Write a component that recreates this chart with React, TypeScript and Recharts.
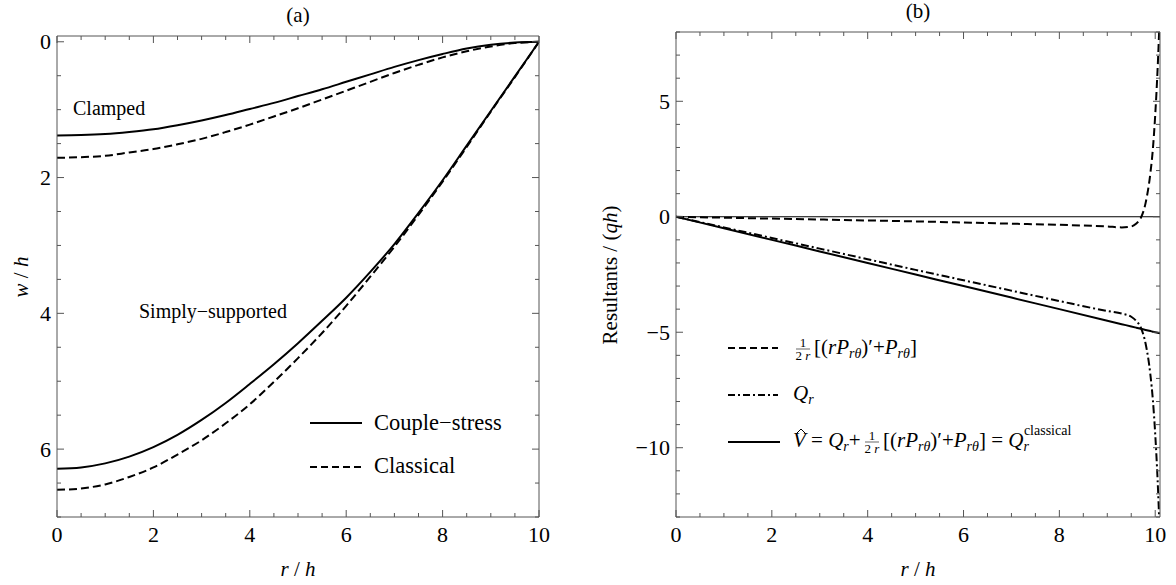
import { LineChart, Line, XAxis, YAxis, ReferenceLine } from 'recharts';

// ---- panel (a): deflection w/h against r/h ----
const rA = [0, 0.5, 1, 1.5, 2, 2.5, 3, 3.5, 4, 4.5, 5, 5.5, 6, 6.5, 7, 7.5, 8, 8.5, 9, 9.5, 10];
const clampedCouple = [1.38, 1.375, 1.36, 1.33, 1.29, 1.23, 1.16, 1.08, 0.99, 0.9, 0.8, 0.7, 0.59, 0.48, 0.37, 0.27, 0.18, 0.1, 0.045, 0.012, 0];
const clampedClassical = [1.71, 1.7, 1.68, 1.63, 1.58, 1.51, 1.43, 1.33, 1.22, 1.1, 0.98, 0.85, 0.72, 0.59, 0.46, 0.34, 0.23, 0.14, 0.07, 0.02, 0];
const simplyCouple = [6.29, 6.27, 6.21, 6.11, 5.97, 5.79, 5.57, 5.32, 5.04, 4.75, 4.44, 4.11, 3.77, 3.39, 2.98, 2.52, 2.04, 1.53, 1.02, 0.51, 0];
const simplyClassical = [6.6, 6.58, 6.52, 6.41, 6.27, 6.08, 5.87, 5.62, 5.34, 5.01, 4.66, 4.29, 3.89, 3.46, 3.02, 2.55, 2.06, 1.55, 1.03, 0.52, 0];

// ---- panel (b): resultants / (qh) against r/h ----
const rB = [0, 1, 2, 3, 4, 5, 6, 7, 8, 9, 9.3, 9.5, 9.6, 9.7, 9.8, 9.9, 9.95, 10, 10.05, 10.1];
const pTerm = [0, -0.04, -0.08, -0.12, -0.16, -0.2, -0.25, -0.3, -0.35, -0.42, -0.46, -0.42, -0.3, -0.05, 0.6, 1.9, 2.9, 4.4, 6.4, 9.0];
const qR = [0, -0.46, -0.92, -1.38, -1.84, -2.3, -2.75, -3.2, -3.65, -4.08, -4.19, -4.33, -4.5, -4.8, -5.5, -6.85, -7.9, -9.4, -11.4, -14.0];
const vHat = [0, -0.5, -1, -1.5, -2, -2.5, -3, -3.5, -4, -4.5, -4.65, -4.75, -4.8, -4.85, -4.9, -4.95, -4.975, -5, -5.025, -5.05];

// ticks
const xTicks = [0, 0.5, 1, 1.5, 2, 2.5, 3, 3.5, 4, 4.5, 5, 5.5, 6, 6.5, 7, 7.5, 8, 8.5, 9, 9.5, 10];
const xMajor = [0, 2, 4, 6, 8, 10];
const yTicksA = [0, 0.5, 1, 1.5, 2, 2.5, 3, 3.5, 4, 4.5, 5, 5.5, 6, 6.5, 7];
const yMajorA = [0, 2, 4, 6];
const yTicksB = [-13, -12, -11, -10, -9, -8, -7, -6, -5, -4, -3, -2, -1, 0, 1, 2, 3, 4, 5, 6, 7, 8];
const yMajorB = [-10, -5, 0, 5];

const dataA = rA.map((r, i) => ({
  r,
  cc: clampedCouple[i],
  ccl: clampedClassical[i],
  sc: simplyCouple[i],
  scl: simplyClassical[i],
}));
const dataB = rB.map((r, i) => ({ r, p: pTerm[i], q: qR[i], v: vHat[i] }));

const FONT = '"Liberation Serif", "Times New Roman", serif';
const FRAME = '#555';
const TICK_FS = 22;

// axis band sizes (bottom, top, left, right)
const AX = { b: 30, t: 10, l: 40, r: 10 };

const fmt = (v: number) => (v < 0 ? '\u2212' + Math.abs(v) : String(v));

// frame ticks point inwards, like the original
const xTick = (side: 'bottom' | 'top', edge: number, majors: number[]) => (props: any) => {
  const { x, payload } = props;
  const major = majors.includes(payload.value);
  const len = major ? 7 : 4;
  const dir = side === 'bottom' ? -1 : 1;
  return (
    <g>
      <line x1={x} x2={x} y1={edge} y2={edge + dir * len} stroke={FRAME} strokeWidth={1} />
      {side === 'bottom' && major && (
        <text x={x} y={edge + 25} textAnchor="middle" fontFamily={FONT} fontSize={TICK_FS} fill="#000">
          {fmt(payload.value)}
        </text>
      )}
    </g>
  );
};

const yTick = (side: 'left' | 'right', edge: number, majors: number[]) => (props: any) => {
  const { y, payload } = props;
  const major = majors.includes(payload.value);
  const len = major ? 7 : 4;
  const dir = side === 'left' ? 1 : -1;
  return (
    <g>
      <line x1={edge} x2={edge + dir * len} y1={y} y2={y} stroke={FRAME} strokeWidth={1} />
      {side === 'left' && major && (
        <text x={edge - 6} y={y + 7.5} textAnchor="end" fontFamily={FONT} fontSize={TICK_FS} fill="#000">
          {fmt(payload.value)}
        </text>
      )}
    </g>
  );
};

const PanelA = () => {
  // plot area: x 57..539, y 36..517
  const W = 560, H = 585;
  const plot = { top: 36, right: 21, bottom: 68, left: 57 };
  const m = { top: plot.top - AX.t, right: plot.right - AX.r, bottom: plot.bottom - AX.b, left: plot.left - AX.l };
  return (
    <LineChart width={W} height={H} data={dataA} margin={m}>
      <XAxis dataKey="r" type="number" domain={[0, 10]} ticks={xTicks} interval={0} height={AX.b}
        allowDataOverflow tickLine={false} axisLine={{ stroke: FRAME }} tick={xTick('bottom', H - plot.bottom, xMajor)} />
      <XAxis xAxisId="top" orientation="top" dataKey="r" type="number" domain={[0, 10]} ticks={xTicks} interval={0} height={AX.t}
        allowDataOverflow tickLine={false} axisLine={{ stroke: FRAME }} tick={xTick('top', plot.top, xMajor)} />
      <YAxis type="number" domain={[-0.085, 7]} reversed ticks={yTicksA} interval={0} width={AX.l}
        allowDataOverflow tickLine={false} axisLine={{ stroke: FRAME }} tick={yTick('left', plot.left, yMajorA)} />
      <YAxis yAxisId="right" orientation="right" type="number" domain={[-0.085, 7]} reversed ticks={yTicksA} interval={0} width={AX.r}
        allowDataOverflow tickLine={false} axisLine={{ stroke: FRAME }} tick={yTick('right', W - plot.right, yMajorA)} />
      <Line dataKey="cc" type="monotone" stroke="#000" strokeWidth={2} dot={false} activeDot={false} isAnimationActive={false} />
      <Line dataKey="ccl" type="monotone" stroke="#000" strokeWidth={2} strokeDasharray="8 4" dot={false} activeDot={false} isAnimationActive={false} />
      <Line dataKey="sc" type="monotone" stroke="#000" strokeWidth={2} dot={false} activeDot={false} isAnimationActive={false} />
      <Line dataKey="scl" type="monotone" stroke="#000" strokeWidth={2} strokeDasharray="8 4" dot={false} activeDot={false} isAnimationActive={false} />
    </LineChart>
  );
};

const PanelB = () => {
  // plot area (page coords): x 676..1160, y 32..517
  const W = 596, H = 585;
  const plot = { top: 32, right: 16, bottom: 68, left: 96 };
  const m = { top: plot.top - AX.t, right: plot.right - AX.r, bottom: plot.bottom - AX.b, left: plot.left - AX.l };
  return (
    <LineChart width={W} height={H} data={dataB} margin={m}>
      <XAxis dataKey="r" type="number" domain={[0, 10.1]} ticks={xTicks} interval={0} height={AX.b}
        allowDataOverflow tickLine={false} axisLine={{ stroke: FRAME }} tick={xTick('bottom', H - plot.bottom, xMajor)} />
      <XAxis xAxisId="top" orientation="top" dataKey="r" type="number" domain={[0, 10.1]} ticks={xTicks} interval={0} height={AX.t}
        allowDataOverflow tickLine={false} axisLine={{ stroke: FRAME }} tick={xTick('top', plot.top, xMajor)} />
      <YAxis type="number" domain={[-13, 8]} ticks={yTicksB} interval={0} width={AX.l}
        allowDataOverflow tickLine={false} axisLine={{ stroke: FRAME }} tick={yTick('left', plot.left, yMajorB)} />
      <YAxis yAxisId="right" orientation="right" type="number" domain={[-13, 8]} ticks={yTicksB} interval={0} width={AX.r}
        allowDataOverflow tickLine={false} axisLine={{ stroke: FRAME }} tick={yTick('right', W - plot.right, yMajorB)} />
      <ReferenceLine y={0} stroke="#000" strokeWidth={1} />
      <Line dataKey="v" type="monotone" stroke="#000" strokeWidth={2} dot={false} activeDot={false} isAnimationActive={false} />
      <Line dataKey="q" type="monotone" stroke="#000" strokeWidth={2} strokeDasharray="8 3 2 3" dot={false} activeDot={false} isAnimationActive={false} />
      <Line dataKey="p" type="monotone" stroke="#000" strokeWidth={2} strokeDasharray="8 4" dot={false} activeDot={false} isAnimationActive={false} />
    </LineChart>
  );
};

const Frac = ({ cx, base }: { cx: number; base: number }) => (
  <g fontFamily={FONT} fill="#000">
    <text x={cx} y={base - 7} fontSize={13} textAnchor="middle">1</text>
    <line x1={cx - 7} x2={cx + 7} y1={base - 5} y2={base - 5} stroke="#000" strokeWidth={0.6} />
    <text x={cx} y={base + 6} fontSize={13} textAnchor="middle">2 <tspan fontStyle="italic">r</tspan></text>
  </g>
);

// [(rP_rθ)′+P_rθ]
const Bracket = () => (
  <>
    [(<tspan fontStyle="italic">rP</tspan>
    <tspan fontStyle="italic" fontSize={14} dy={4}>rθ</tspan>
    <tspan dy={-4}>)′+</tspan>
    <tspan fontStyle="italic">P</tspan>
    <tspan fontStyle="italic" fontSize={14} dy={4}>rθ</tspan>
    <tspan dy={-4}>]</tspan>
  </>
);

const Overlay = () => (
  <svg width={1176} height={585} style={{ position: 'absolute', left: 0, top: 0 }} fontFamily={FONT} fill="#000">
    {/* panel (a) */}
    <text x={298} y={22} fontSize={21} textAnchor="middle">(a)</text>
    <text x={298} y={576} fontSize={21} textAnchor="middle">
      <tspan fontStyle="italic">r</tspan> / <tspan fontStyle="italic">h</tspan>
    </text>
    <text transform="translate(28,277) rotate(-90)" fontSize={21} textAnchor="middle">
      <tspan fontStyle="italic">w</tspan> / <tspan fontStyle="italic">h</tspan>
    </text>
    <text x={73} y={115} fontSize={20}>Clamped</text>
    <text x={139} y={318} fontSize={20}>Simply{'\u2212'}supported</text>
    <line x1={310} x2={362} y1={423} y2={423} stroke="#000" strokeWidth={2} />
    <text x={374} y={430} fontSize={22.5}>Couple{'\u2212'}stress</text>
    <line x1={310} x2={362} y1={467} y2={467} stroke="#000" strokeWidth={2} strokeDasharray="7 4" />
    <text x={374} y={473} fontSize={22.5}>Classical</text>

    {/* panel (b) */}
    <text x={918} y={18} fontSize={21} textAnchor="middle">(b)</text>
    <text x={918} y={576} fontSize={21} textAnchor="middle">
      <tspan fontStyle="italic">r</tspan> / <tspan fontStyle="italic">h</tspan>
    </text>
    <text transform="translate(617,275) rotate(-90)" fontSize={21} textAnchor="middle">
      Resultants / (<tspan fontStyle="italic">qh</tspan>)
    </text>

    <line x1={728} x2={778} y1={348} y2={348} stroke="#000" strokeWidth={2} strokeDasharray="7 4" />
    <Frac cx={803} base={354} />
    <text x={814} y={354} fontSize={21}><Bracket /></text>

    <line x1={728} x2={778} y1={395} y2={395} stroke="#000" strokeWidth={2} strokeDasharray="7 3 2 3" />
    <text x={793} y={400} fontSize={21}>
      <tspan fontStyle="italic">Q</tspan>
      <tspan fontStyle="italic" fontSize={14} dy={4}>r</tspan>
    </text>

    <line x1={728} x2={780} y1={442} y2={442} stroke="#000" strokeWidth={2} />
    {/* hat over V */}
    <path d="M797,433 L801,429 L805,433" fill="none" stroke="#000" strokeWidth={1} />
    <text x={793} y={447} fontSize={21}>
      <tspan fontStyle="italic">V</tspan> = <tspan fontStyle="italic">Q</tspan>
      <tspan fontStyle="italic" fontSize={14} dy={4}>r</tspan>
      <tspan dy={-4}>+</tspan>
    </text>
    <Frac cx={872} base={447} />
    <text x={883} y={447} fontSize={21}>
      <Bracket /> = <tspan fontStyle="italic">Q</tspan>
      <tspan fontStyle="italic" fontSize={14} dy={4}>r</tspan>
      <tspan fontSize={14} dx={-5} dy={-16}>classical</tspan>
    </text>
  </svg>
);

export default function App() {
  return (
    <div style={{ position: 'absolute', left: 0, top: 0, width: 1176, height: 585, background: '#fff' }}>
      <div style={{ position: 'absolute', left: 0, top: 0 }}>
        <PanelA />
      </div>
      <div style={{ position: 'absolute', left: 580, top: 0 }}>
        <PanelB />
      </div>
      <Overlay />
    </div>
  );
}
